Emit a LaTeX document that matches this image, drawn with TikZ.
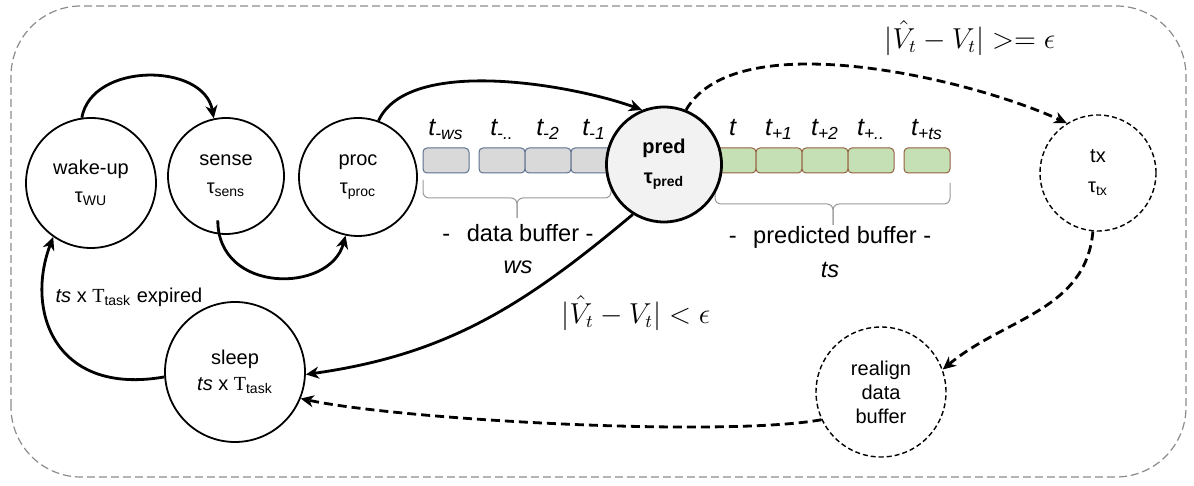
\documentclass[tikz,border=0pt]{standalone}
\usepackage{fontspec}
\setmainfont{Liberation Sans}
\newfontfamily\timesfont{Liberation Serif}
\usetikzlibrary{arrows.meta}

\definecolor{framegray}{HTML}{8C8C8C}
\definecolor{datafill}{HTML}{D9D9D9}
\definecolor{dataline}{HTML}{5C6F8F}
\definecolor{predfill}{HTML}{C5E0B4}
\definecolor{predline}{HTML}{94603F}
\definecolor{bracegray}{HTML}{9A9A9A}
\definecolor{predgray}{HTML}{F2F2F2}

\newcommand{\Ttask}{{\timesfont T}\textsubscript{task}}

\begin{document}
\begin{tikzpicture}[
x=0.5pt, y=0.5pt,
font=\fontsize{10}{12}\selectfont,
state/.style={
  circle,
  draw,
  line width=0.9pt,
  align=center,
  inner sep=0pt
  },
dstate/.style={state, dash pattern=on 2.5pt off 1.5pt, line width=0.7pt},
arr/.style={line width=1.4pt, -{Stealth[length=6.5pt,width=6pt,inset=2pt]}},
darr/.style={arr, dash pattern=on 4.5pt off 2.5pt},
databox/.style={draw=dataline, fill=datafill, rounded corners=2pt, line width=0.5pt,
  minimum width=23pt, minimum height=12.5pt, inner sep=0pt},
predbox/.style={databox, draw=predline, fill=predfill},
slot/.style={font=\fontsize{12.5}{14}\selectfont\itshape, anchor=base},
brace/.style={draw=bracegray, line width=0.5pt, rounded corners=3pt},
buflabel/.style={font=\fontsize{11.8}{14}\selectfont, align=center},
cond/.style={font=\fontsize{13.5}{16}\selectfont}
]
\useasboundingbox (0,0) rectangle (1194,486);
\draw[framegray, line width=0.6pt, dash pattern=on 4pt off 2pt, rounded corners=35pt]
  (11,9) rectangle (1186,480);

% buffers
\foreach \x/\n/\s in {446/1/-ws,502/2/-..,548/3/-2,594/4/-1}{
  \node[databox] (d\n) at (\x,325.5) {};
  \node[slot] (ld\n) at (\x,350) {t\textsubscript{\s}};
}
\foreach \x/\n/\s in {733/1/,779/2/+1,825/3/+2,871/4/+..,927/5/+ts}{
  \node[predbox] (p\n) at (\x,325.5) {};
  \node[slot] (lp\n) at (\x,350) {t\textsubscript{\s}};
}
\draw[brace] (423,306) -- (423,288) -- (517,288) -- (517,268);
\draw[brace] (611,306) -- (611,288) -- (517,288) -- (517,268);
\draw[brace] (715,303) -- (715,282) -- (833,282) -- (833,261);
\draw[brace] (950,303) -- (950,282) -- (833,282) -- (833,261);
\node[buflabel] (dbuf) at (518,237) {-\hspace{0.7em}data buffer -\\[2pt]\textit{ws}};
\node[buflabel] (pbuf) at (830,234) {-\hspace{0.7em}predicted buffer -\\[3pt]\textit{ts}};

% states
\node[state, minimum size=65pt] (wu) at (91,303) {wake-up\\[2pt]τ\textsubscript{WU}};
\node[state, minimum size=58pt] (sense) at (226,310) {sense\\[2pt]τ\textsubscript{sens}};
\node[state, minimum size=59pt] (proc) at (358,309) {proc\\[2pt]τ\textsubscript{proc}};
\node[state, minimum size=57.5pt, fill=predgray, line width=1.4pt] (pred) at (664,321.5)
  {\textbf{pred}\\[3pt]\textbf{τ\textsubscript{pred}}};
\node[dstate, minimum size=58pt] (tx) at (1098,313) {tx\\[3pt]τ\textsubscript{tx}};
\node[dstate, minimum size=65pt] (realign) at (881,94) {realign\\data\\buffer};
\node[state, minimum size=70pt] (sleep) at (235,114) {sleep\\[1pt]\textit{ts} x \Ttask};

% transitions
\draw[arr] (wu.98) to[out=80,in=100,looseness=1.1] (sense.102);
\draw[arr, shorten <=-7pt] (sense.262) to[out=270,in=255,looseness=1.2] (proc.258);
\draw[arr] (proc.70) to[out=65,in=160,looseness=0.7] (pred.112);
\draw[darr] (pred.68) to[out=60,in=155,looseness=0.68] (tx.122);
\draw[darr] (tx.265) to[out=265,in=40] (realign.20);
\draw[darr] (realign.205) to[out=190,in=-12,looseness=0.5] (sleep.-22);
\draw[arr] (pred.238) to[out=220,in=8] (sleep.-2);
\draw[arr] (sleep.184) .. controls (55,90) and (25,175) .. (wu.235);

\node[cond] (ge) at (970,448) {$|\hat{V}_t - V_t| >= \epsilon$};
\node[cond] (lt) at (636,173) {$|\hat{V}_t - V_t| < \epsilon$};
\node (expired) at (129,189) {\textit{ts} x \Ttask{} expired};
\end{tikzpicture}
\end{document}
